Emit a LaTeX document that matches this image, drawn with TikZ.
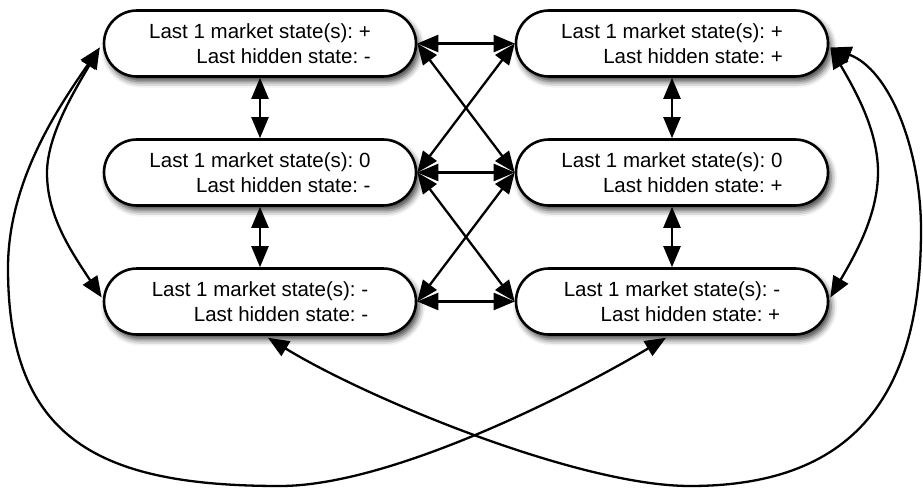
\documentclass[tikz,border=0pt]{standalone}
\usepackage{fontspec}
\setmainfont{Liberation Sans}
\usetikzlibrary{arrows.meta,shadows.blur,calc}

\begin{document}
\frenchspacing
\begin{tikzpicture}[x=1pt,y=-1pt,
  state/.style={draw=black, line width=2.6pt, fill=white, rectangle,
    rounded corners=33pt, minimum width=312pt, minimum height=66pt,
    align=right, inner sep=0pt, font=\fontsize{20.5}{25}\selectfont,
    blur shadow={shadow xshift=3pt, shadow yshift=-5pt,
      shadow blur radius=6pt, shadow opacity=75}},
  link/.style={line width=2.3pt,
    {Triangle[length=21pt,width=17pt]}-{Triangle[length=21pt,width=17pt]}}]
\useasboundingbox (0,0) rectangle (923,487);

% states: left column hidden "-", right column hidden "+"
\node[state] (TL) at (260,43.5)  {Last 1 market state(s): +\\Last hidden state: -};
\node[state] (ML) at (260,172.5) {Last 1 market state(s): 0\\Last hidden state: -};
\node[state] (BL) at (260,301.5) {Last 1 market state(s): -\\Last hidden state: -};
\node[state] (TR) at (672,43.5)  {Last 1 market state(s): +\\Last hidden state: +};
\node[state] (MR) at (672,172.5) {Last 1 market state(s): 0\\Last hidden state: +};
\node[state] (BR) at (672,301.5) {Last 1 market state(s): -\\Last hidden state: +};

% vertical transitions
\draw[link] (TL.south) -- (ML.north);
\draw[link] (ML.south) -- (BL.north);
\draw[link] (TR.south) -- (MR.north);
\draw[link] (MR.south) -- (BR.north);

% horizontal and diagonal transitions
\draw[link] (TL.east) -- (TR.west);
\draw[link] (ML.east) -- (MR.west);
\draw[link] (BL.east) -- (BR.west);
\draw[link] (TL.east) -- (MR.west);
\draw[link] (ML.east) -- (TR.west);
\draw[link] (ML.east) -- (BR.west);
\draw[link] (BL.east) -- (MR.west);

% inner side loops
\draw[link] ($(TL.west)+(-3,4)$) .. controls (75,90) and (47,135) .. (47,173)
  .. controls (47,215) and (70,250) .. ($(BL.west)+(-1,-4)$);
\draw[link] ($(TR.east)+(1,4)$) .. controls (855,90) and (878,130) .. (878,172)
  .. controls (878,215) and (855,255) .. ($(BR.east)+(1,-4)$);

% outer crossing loops
\draw[link] ($(TL.west)+(-3,4)$) .. controls (60,105) and (8,180) .. (8,268)
  .. controls (8,440) and (100,486) .. (280,486)
  .. controls (390,486) and (570,395) .. ($(BR.south)+(-6,2)$);
\draw[link] ($(TR.east)+(1,4)$) .. controls (890,70) and (921,150) .. (921,230)
  .. controls (921,400) and (850,486) .. (690,486)
  .. controls (580,486) and (370,400) .. ($(BL.south)+(8,2)$);
\end{tikzpicture}
\end{document}
